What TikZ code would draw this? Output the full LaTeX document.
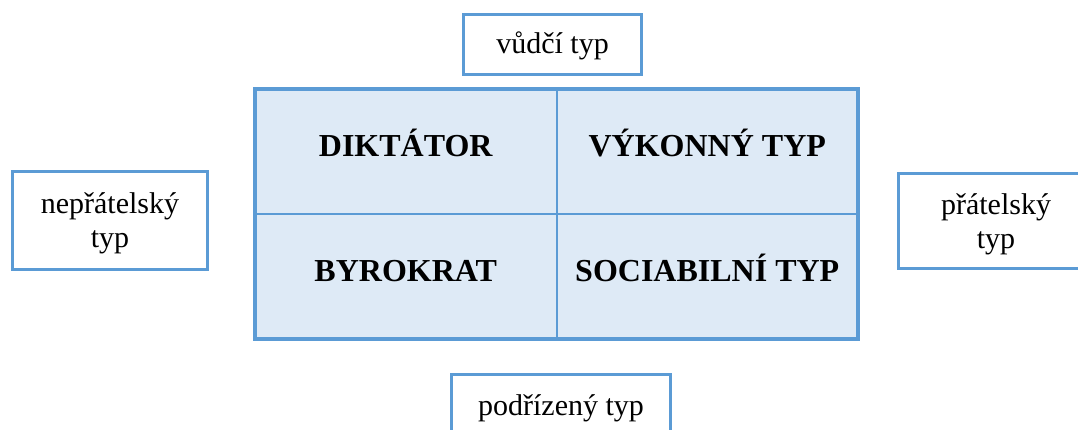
\documentclass[tikz,border=0pt]{standalone}
\usepackage{fontspec}
\setmainfont{Liberation Serif}
\usetikzlibrary{positioning}
\definecolor{frameblue}{HTML}{5B9BD5}
\definecolor{cellblue}{HTML}{DEEAF6}

\begin{document}
\begin{tikzpicture}
  [
   x=1pt,y=-1pt,
   node distance=0pt,
   cell/.style={rectangle,fill=cellblue,draw=frameblue,line width=2pt,inner sep=0pt,outer sep=0pt,
     minimum width=301.5pt,minimum height=125pt,font=\fontsize{32}{38}\selectfont\bfseries,
     text height=20pt,text depth=10pt},
   side/.style={rectangle,draw=frameblue,line width=3pt,fill=white,inner sep=0pt,outer sep=0pt,
     align=center,font=\fontsize{30}{34}\selectfont},
   frame/.style={draw=frameblue,line width=4pt}
  ]
   \useasboundingbox (0,0) rectangle (1078,430);

   % the four types
   \node[cell] (dik) at (405.75,151.5) {DIKTÁTOR};
   \node[cell] (vyk) [right=of dik] {VÝKONNÝ TYP};
   \node[cell] (byr) [below=of dik] {BYROKRAT};
   \node[cell] (soc) [right=of byr] {SOCIABILNÍ TYP};
   \draw[frame] (dik.north west) rectangle (soc.south east);

   % the axes
   \node[side,minimum width=178pt,minimum height=60pt,text height=21pt,text depth=3pt] (vud) at (552.5,44.5) {vůdčí typ};
   \node[side,minimum width=219pt,minimum height=60pt,text height=21pt,text depth=0pt] (pod) at (561,404.5) {podřízený typ};
   \node[side,minimum width=195pt,minimum height=98pt,text depth=0pt] (nep) at (110,220.5) {nepřátelský\\typ};
   \node[side,minimum width=195pt,minimum height=95pt,text depth=0pt] (pra) at (996,221) {přátelský\\typ};

\end{tikzpicture}
\end{document}
